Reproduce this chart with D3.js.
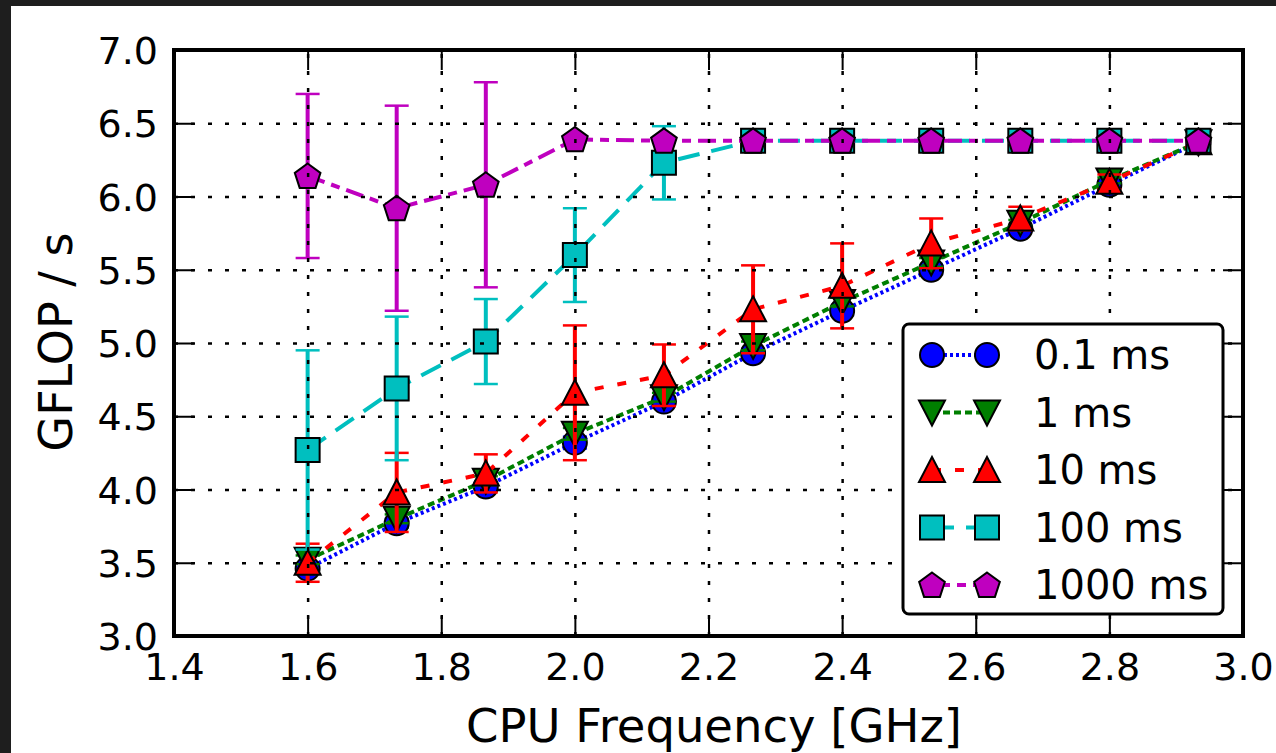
<!DOCTYPE html>
<html>
<head>
<meta charset="utf-8">
<script src="https://cdn.jsdelivr.net/npm/d3@7"></script>
<style>
    body { margin: 0; background: #ffffff; }
    svg text { font-family: "DejaVu Sans", sans-serif; fill: #000; }
</style>
</head>
<body>
<svg id="chart" width="1276" height="753"></svg>
<script>
// CPU frequency steps (GHz)
let freqs = [1.6, 1.7333, 1.8667, 2.0, 2.1333, 2.2667, 2.4, 2.5333, 2.6667, 2.8, 2.9333];

// GFLOP/s per sleep interval, with error bars
let names = ["0.1 ms", "1 ms", "10 ms", "100 ms", "1000 ms"];
let gflops_01 = [3.46, 3.77, 4.02, 4.32, 4.60, 4.93, 5.22, 5.50, 5.78, 6.08, 6.37];
let err_01 = [0.03, 0.03, 0.03, 0.04, 0.03, 0.03, 0.03, 0.03, 0.02, 0.02, 0.02];
let gflops_1 = [3.52, 3.80, 4.06, 4.38, 4.63, 4.98, 5.28, 5.55, 5.82, 6.11, 6.37];
let err_1 = [0.03, 0.03, 0.03, 0.04, 0.03, 0.03, 0.03, 0.03, 0.02, 0.02, 0.02];
let gflops_10 = [3.50, 3.98, 4.11, 4.66, 4.78, 5.23, 5.39, 5.68, 5.85, 6.10, 6.37];
let err_10 = [0.13, 0.27, 0.13, 0.46, 0.21, 0.30, 0.29, 0.17, 0.08, 0.05, 0.05];
let gflops_100 = [4.27, 4.69, 5.01, 5.60, 6.23, 6.38, 6.38, 6.38, 6.38, 6.38, 6.38];
let err_100 = [0.68, 0.49, 0.29, 0.32, 0.25, 0.02, 0.02, 0.02, 0.02, 0.02, 0.02];
let gflops_1000 = [6.14, 5.92, 6.08, 6.39, 6.38, 6.38, 6.38, 6.38, 6.38, 6.38, 6.38];
let err_1000 = [0.56, 0.70, 0.70, 0.02, 0.01, 0.01, 0.01, 0.01, 0.01, 0.01, 0.01];

let xTicks = [1.4, 1.6, 1.8, 2.0, 2.2, 2.4, 2.6, 2.8, 3.0];
let yTicks = [3.0, 3.5, 4.0, 4.5, 5.0, 5.5, 6.0, 6.5, 7.0];

let series = [
    { name: names[0], values: gflops_01, errors: err_01, color: "#0000ff", marker: "circle", dash: "3,3" },
    { name: names[1], values: gflops_1, errors: err_1, color: "#007f00", marker: "tri_down", dash: "7,4" },
    { name: names[2], values: gflops_10, errors: err_10, color: "#ff0000", marker: "tri_up", dash: "9,14" },
    { name: names[3], values: gflops_100, errors: err_100, color: "#00bfbf", marker: "square", dash: "22,12" },
    { name: names[4], values: gflops_1000, errors: err_1000, color: "#bf00bf", marker: "pentagon", dash: "18,7,9,7" }
];

const svg = d3.select("#chart");
const pLeft = 174, pRight = 1243, pTop = 50, pBottom = 636;

// dark screenshot frame at top and left
svg.append("rect").attr("x", 0).attr("y", 0).attr("width", 1276).attr("height", 6).attr("fill", "#1e1e1e");
svg.append("rect").attr("x", 0).attr("y", 0).attr("width", 11).attr("height", 753).attr("fill", "#1e1e1e");

let x = d3.scaleLinear().domain([1.4, 3.0]).range([pLeft, pRight]);
let y = d3.scaleLinear().domain([3.0, 7.0]).range([pBottom, pTop]);

function marker_path(kind) {
    if (kind === "circle") {
        return d3.symbol().type(d3.symbolCircle).size(Math.PI * 12 * 12)();
    }
    if (kind === "square") {
        return "M-12,-12L12,-12L12,12L-12,12Z";
    }
    if (kind === "tri_up") {
        return "M0,-13L13,12L-13,12Z";
    }
    if (kind === "tri_down") {
        return "M0,13L13,-12L-13,-12Z";
    }
    let pts = d3.range(5).map(function (k) {
        let a = -Math.PI / 2 + k * 2 * Math.PI / 5;
        return [13.5 * Math.cos(a), 13.5 * Math.sin(a) + 1];
    });
    return "M" + pts.map(p => p.join(",")).join("L") + "Z";
}

let line = d3.line()
    .x(d => x(d[0]))
    .y(d => y(d[1]));

// each series: line, error bars, markers
series.forEach(function (s) {
    let pts = freqs.map((f, i) => [f, s.values[i], s.errors[i]]);
    let g = svg.append("g").attr("class", "series");

    g.append("path")
        .attr("d", line(pts))
        .attr("fill", "none")
        .attr("stroke", s.color)
        .attr("stroke-width", 4)
        .attr("stroke-dasharray", s.dash);

    let bars = g.selectAll(".err")
        .data(pts)
        .enter()
        .append("g")
        .attr("class", "err")
        .attr("stroke", s.color)
        .attr("stroke-width", 4);

    bars.append("line")
        .attr("x1", d => x(d[0])).attr("x2", d => x(d[0]))
        .attr("y1", d => y(d[1] - d[2])).attr("y2", d => y(d[1] + d[2]));
    bars.append("line")
        .attr("x1", d => x(d[0]) - 12).attr("x2", d => x(d[0]) + 12)
        .attr("y1", d => y(d[1] + d[2])).attr("y2", d => y(d[1] + d[2]))
        .attr("stroke-width", 2.5);
    bars.append("line")
        .attr("x1", d => x(d[0]) - 12).attr("x2", d => x(d[0]) + 12)
        .attr("y1", d => y(d[1] - d[2])).attr("y2", d => y(d[1] - d[2]))
        .attr("stroke-width", 2.5);

    g.selectAll(".mark")
        .data(pts)
        .enter()
        .append("path")
        .attr("class", "mark")
        .attr("d", marker_path(s.marker))
        .attr("transform", d => `translate(${x(d[0])},${y(d[1])})`)
        .attr("fill", s.color)
        .attr("stroke", "#000")
        .attr("stroke-width", 2);
});

// grid sits above the data (old matplotlib style)
svg.append("g")
    .attr("transform", `translate(0,${pBottom})`)
    .call(d3.axisBottom(x).tickValues(xTicks).tickSize(-(pBottom - pTop)).tickFormat(""))
    .call(g => g.select(".domain").remove())
    .selectAll("line")
    .attr("stroke", "#000")
    .attr("stroke-width", 2.5)
    .attr("stroke-dasharray", "4,13");

svg.append("g")
    .attr("transform", `translate(${pLeft},0)`)
    .call(d3.axisLeft(y).tickValues(yTicks).tickSize(-(pRight - pLeft)).tickFormat(""))
    .call(g => g.select(".domain").remove())
    .selectAll("line")
    .attr("stroke", "#000")
    .attr("stroke-width", 2.5)
    .attr("stroke-dasharray", "4,13");

// axes with inward ticks on all four sides
let fmt = d3.format(".1f");

let xAxis = svg.append("g")
    .attr("transform", `translate(0,${pBottom})`)
    .call(d3.axisBottom(x).tickValues(xTicks).tickFormat(fmt).tickSizeInner(-20).tickSizeOuter(0).tickPadding(17));
let yAxis = svg.append("g")
    .attr("transform", `translate(${pLeft},0)`)
    .call(d3.axisLeft(y).tickValues(yTicks).tickFormat(fmt).tickSizeInner(-20).tickSizeOuter(0).tickPadding(16));
let xTop = svg.append("g")
    .attr("transform", `translate(0,${pTop})`)
    .call(d3.axisTop(x).tickValues(xTicks).tickFormat("").tickSizeInner(-20).tickSizeOuter(0));
let yRight = svg.append("g")
    .attr("transform", `translate(${pRight},0)`)
    .call(d3.axisRight(y).tickValues(yTicks).tickFormat("").tickSizeInner(-20).tickSizeOuter(0));

[xAxis, yAxis, xTop, yRight].forEach(function (a) {
    a.select(".domain").remove();
    a.selectAll("line").attr("stroke", "#000").attr("stroke-width", 2);
    a.selectAll("text")
        .style("font-family", "DejaVu Sans")
        .style("font-size", "38px")
        .attr("fill", "#000");
});
yAxis.selectAll("text").attr("dy", "0.36em");

svg.append("rect")
    .attr("x", pLeft).attr("y", pTop)
    .attr("width", pRight - pLeft).attr("height", pBottom - pTop)
    .attr("fill", "none")
    .attr("stroke", "#000")
    .attr("stroke-width", 4);

// axis labels
svg.append("text")
    .attr("x", 714).attr("y", 742)
    .attr("text-anchor", "middle")
    .style("font-size", "46.5px")
    .text("CPU Frequency [GHz]");

svg.append("text")
    .attr("transform", "translate(72,342) rotate(-90)")
    .attr("text-anchor", "middle")
    .style("font-size", "46px")
    .text("GFLOP / s");

// legend
let legend = svg.append("g").attr("class", "legend");
legend.append("rect")
    .attr("x", 903).attr("y", 324)
    .attr("width", 320).attr("height", 290)
    .attr("rx", 6)
    .attr("fill", "#fff")
    .attr("stroke", "#000")
    .attr("stroke-width", 3);

let rows = legend.selectAll(".row")
    .data(series)
    .enter()
    .append("g")
    .attr("class", "row")
    .attr("transform", (d, i) => `translate(0,${355 + i * 57.5})`);

rows.append("line")
    .attr("x1", 932).attr("x2", 987)
    .attr("y1", 0).attr("y2", 0)
    .attr("stroke", d => d.color)
    .attr("stroke-width", 4)
    .attr("stroke-dasharray", d => d.dash);

[932, 987].forEach(function (mx) {
    rows.append("path")
        .attr("d", d => marker_path(d.marker))
        .attr("transform", `translate(${mx},0)`)
        .attr("fill", d => d.color)
        .attr("stroke", "#000")
        .attr("stroke-width", 2);
});

rows.append("text")
    .attr("x", 1034)
    .attr("y", 0)
    .attr("dy", "0.36em")
    .style("font-size", "40px")
    .text(d => d.name);
</script>
</body>
</html>
